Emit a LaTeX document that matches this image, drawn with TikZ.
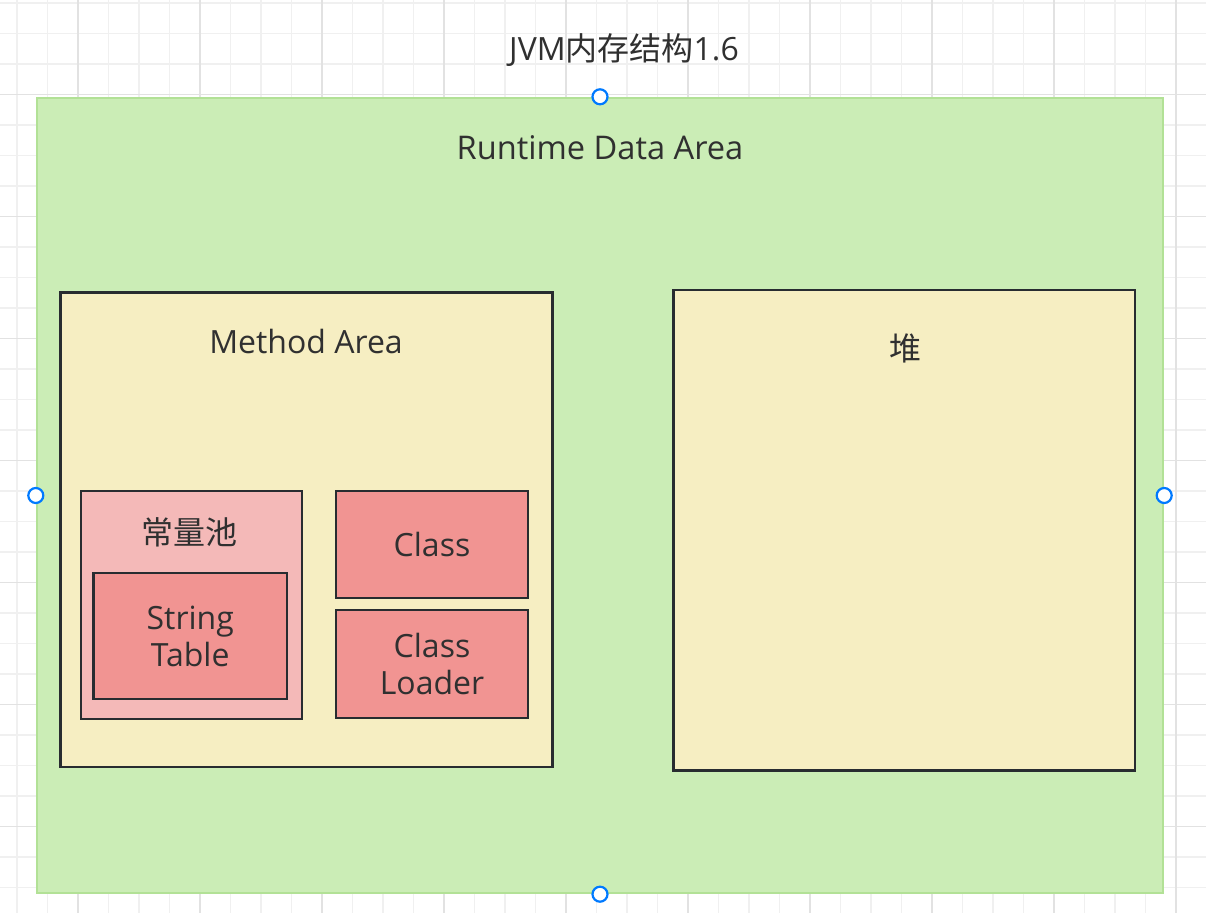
\documentclass[tikz,border=0pt]{standalone}
\usepackage{fontspec}
\setmainfont{Open Sans}
\newfontfamily\cjk{Noto Sans CJK SC}
\usepackage{xcolor}
\usepackage{tikz}
\usetikzlibrary{positioning}
\definecolor{gridminor}{RGB}{240, 240, 240}
\definecolor{gridmajor}{RGB}{226, 226, 226}
\definecolor{areagreen}{RGB}{203, 237, 182}
\definecolor{areaborder}{RGB}{178, 225, 150}
\definecolor{methodyellow}{RGB}{246, 238, 194}
\definecolor{poolpink}{RGB}{244, 185, 184}
\definecolor{boxred}{RGB}{241, 148, 146}
\definecolor{darkline}{RGB}{40, 44, 48}
\definecolor{textgray}{RGB}{48, 48, 48}
\definecolor{handleblue}{RGB}{0, 122, 255}

\begin{document}
\begin{tikzpicture}[
    x=0.5pt, y=-0.5pt,
    label text/.style={
        text=textgray,
        align=center,
        font={\fontsize{16}{18.5}\selectfont}
    },
    region/.style={
        rectangle,
        draw=darkline,
        line width=1.3pt,
        inner sep=0pt
    },
    handle/.style={
        circle,
        draw=handleblue,
        fill=white,
        line width=1.1pt,
        minimum size=7.5pt,
        inner sep=0pt
    }
]
    \useasboundingbox (0, 0) rectangle (1206, 913);
    \fill[white] (0, 0) rectangle (1206, 913);

    % Background grid
    \foreach \i in {0,...,39}
        \draw[gridminor, line width=0.6pt] (17+30.5*\i, 0) -- (17+30.5*\i, 913);
    \foreach \i in {0,...,29}
        \draw[gridminor, line width=0.6pt] (0, 3+30.5*\i) -- (1206, 3+30.5*\i);
    \foreach \i in {0,...,9}
        \draw[gridmajor, line width=0.7pt] (78+122*\i, 0) -- (78+122*\i, 913);
    \foreach \i in {0,...,6}
        \draw[gridmajor, line width=0.7pt] (0, 94.5+122*\i) -- (1206, 94.5+122*\i);

    % Title
    \node[label text] (title) at (624, 50) {JVM{\cjk 内存结构}1.6};

    % Runtime data area
    \node[rectangle, fill=areagreen, draw=areaborder, line width=1.2pt,
          minimum width=563pt, minimum height=397.5pt] (area) at (600, 495.5) {};
    \node[label text, font={\fontsize{16.3}{18.5}\selectfont}] (areatitle) at (600, 148) {Runtime Data Area};

    % Method area
    \node[region, fill=methodyellow, minimum width=246pt, minimum height=237.25pt] (method) at (306.5, 529.75) {};
    \node[label text] (methodtitle) at (306, 342) {Method Area};

    % Heap
    \node[region, fill=methodyellow, minimum width=230.75pt, minimum height=240.25pt] (heap) at (904.25, 530.25) {};
    \node[label text] (heaptitle) at (905, 348) {\cjk 堆};

    % Constant pool
    \node[region, fill=poolpink, minimum width=110.5pt, minimum height=114pt] (pool) at (191.5, 605) {};
    \node[label text] (pooltitle) at (189, 532) {\cjk 常量池};
    \node[region, fill=boxred, label text, minimum width=96.75pt, minimum height=63pt] (strtab) at (190.25, 636) {String\\Table};

    % Class and class loader
    \node[region, fill=boxred, label text, minimum width=96pt, minimum height=53.5pt] (class) at (432, 544.5) {Class};
    \node[region, fill=boxred, label text, minimum width=96pt, minimum height=54pt] (loader) at (432, 664) {Class\\Loader};

    % Selection handles
    \foreach \side in {north, south, east, west}
        \node[handle] at (area.\side) {};
\end{tikzpicture}
\end{document}
